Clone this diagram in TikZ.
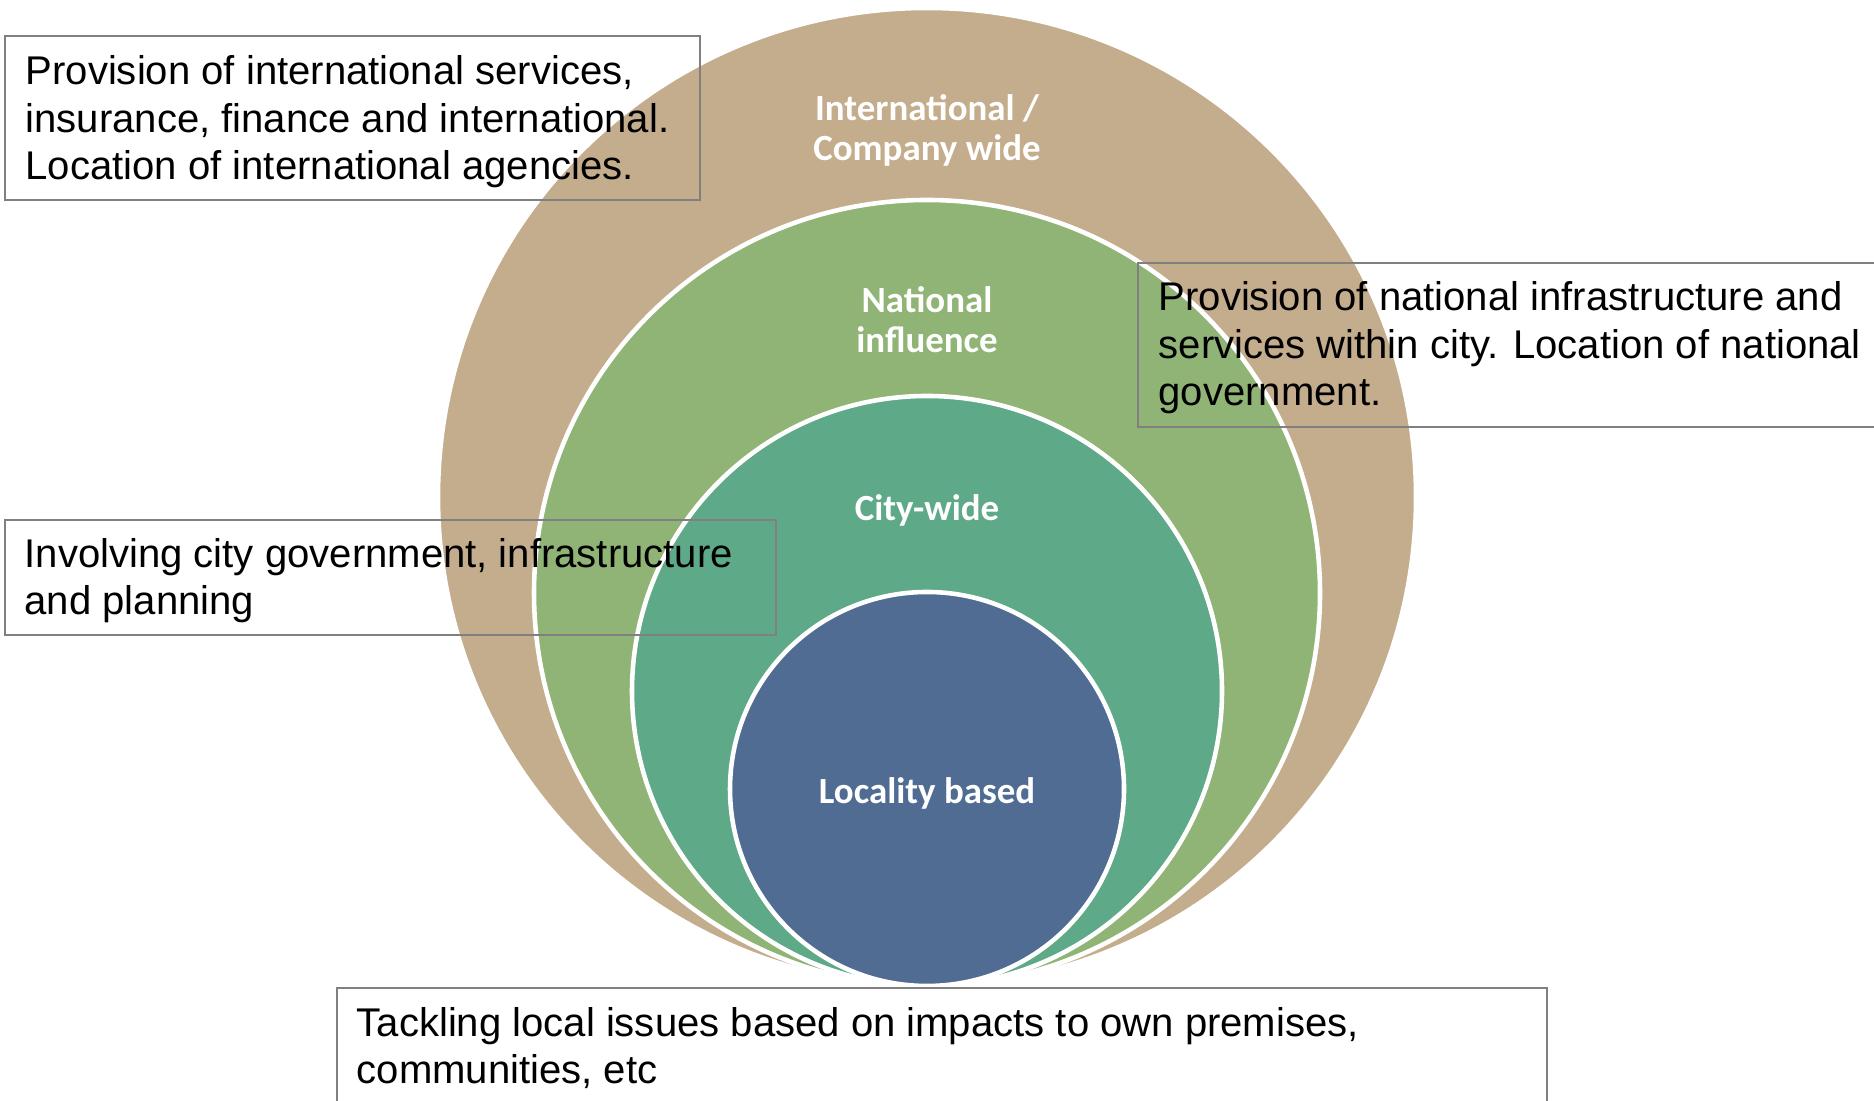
\documentclass[tikz,border=0pt]{standalone}
\usepackage{fontspec}
\setmainfont{Liberation Sans}
\newfontfamily\ringfont{Carlito}
\definecolor{ringtan}{RGB}{196,173,140}
\definecolor{ringgreen}{RGB}{144,180,117}
\definecolor{ringteal}{RGB}{94,169,136}
\definecolor{ringblue}{RGB}{80,108,147}
\definecolor{boxgray}{RGB}{128,128,128}
\begin{document}
\begin{tikzpicture}[
    ring/.style={draw=white, line width=1.3pt},
    ringlabel/.style={text=white, align=center, inner sep=0pt,
      font=\ringfont\bfseries\fontsize{10.5}{11.4}\selectfont},
    note/.style={anchor=base west, align=left, inner sep=0pt,
      font=\fontsize{11.4}{13.55}\selectfont},
    notebox/.style={draw=boxgray, line width=0.6pt}]
    \useasboundingbox (0,0) rectangle (18.74,11.01);
    % Circles
    \draw[ring, fill=ringtan] (9.27,6.04) circle (4.89cm);
    \draw[ring, fill=ringgreen] (9.27,5.08) circle (3.93cm);
    \draw[ring, fill=ringteal] (9.27,4.10) circle (2.95cm);
    \draw[ring, fill=ringblue] (9.27,3.12) circle (1.97cm);
    % Circle labels
    \node[ringlabel] (intl) at (9.27,9.71) {International /\\Company wide};
    \node[ringlabel] (natl) at (9.27,7.81) {National\\influence};
    \node[ringlabel] (city) at (9.27,5.905) {City-wide};
    \node[ringlabel] (local) at (9.27,3.075) {Locality based};
    % Boxes
    \draw[notebox] (0.05,10.65) rectangle (7.00,9.01);
    \draw[notebox] (11.38,8.38) rectangle (19.20,6.74);
    \draw[notebox] (0.05,5.81) rectangle (7.76,4.66);
    \draw[notebox] (3.37,1.13) rectangle (15.47,-0.50);
    % Box texts (base = last line)
    \node[note] (intlnote) at (0.25,9.21) {Provision of international services,\\insurance, finance and international.\\Location of international agencies.};
    \node[note] (natlnote) at (11.58,6.95) {Provision of national infrastructure and\\services within city. Location of national\\government.};
    \node[note] (citynote) at (0.24,4.86) {Involving city government, infrastructure\\and planning};
    \node[note] (localnote) at (3.56,0.17) {Tackling local issues based on impacts to own premises,\\communities, etc};
\end{tikzpicture}
\end{document}
